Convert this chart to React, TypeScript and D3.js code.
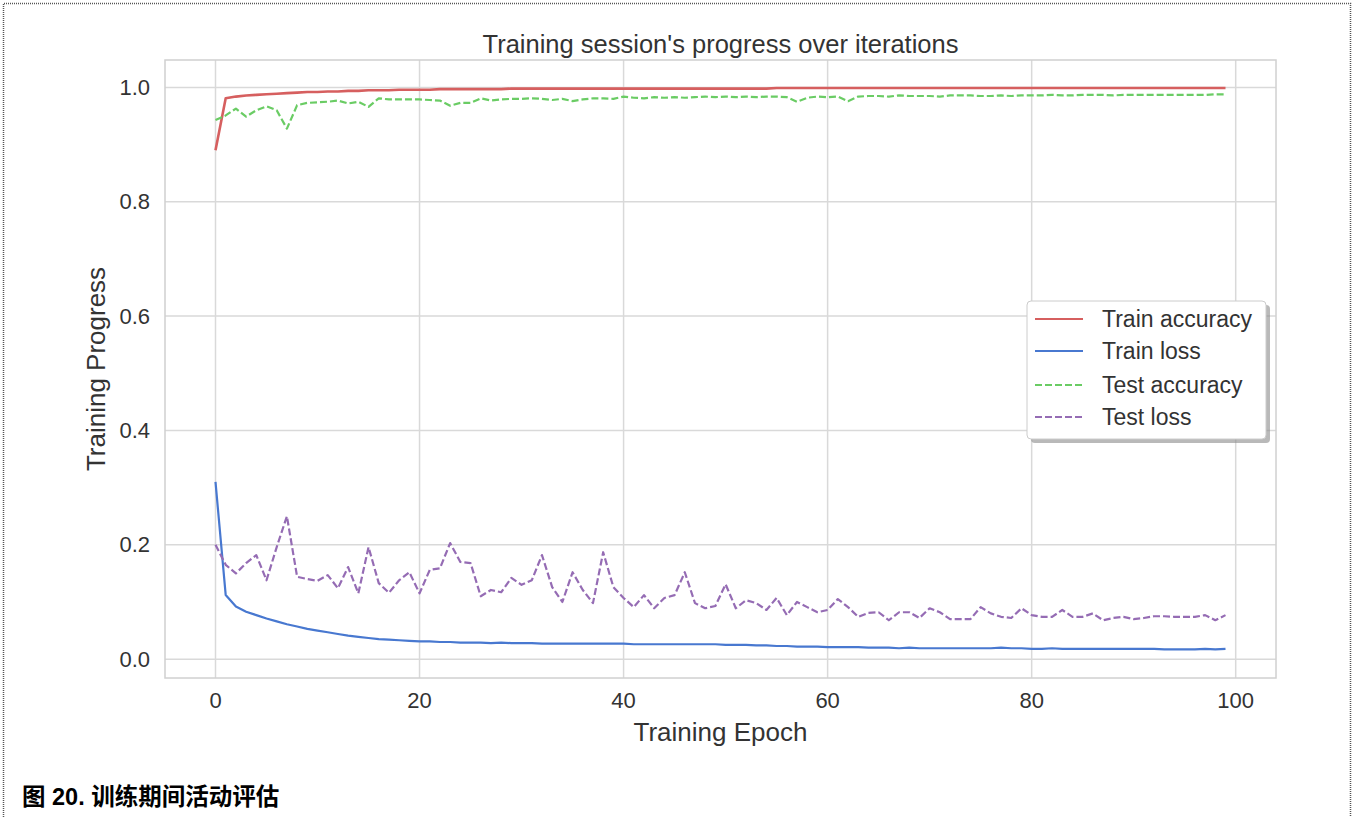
import React from "react";
import * as d3 from "d3";

const epochs: number[] = d3.range(0, 100);

const trainAccuracy: number[] = [
  0.890, 0.981, 0.984, 0.986, 0.987, 0.988, 0.989, 0.990, 0.991, 0.992,
  0.992, 0.993, 0.993, 0.994, 0.994, 0.995, 0.995, 0.995, 0.996, 0.996,
  0.996, 0.996, 0.997, 0.997, 0.997, 0.997, 0.997, 0.997, 0.997, 0.998,
  0.998, 0.998, 0.998, 0.998, 0.998, 0.998, 0.998, 0.998, 0.998, 0.998,
  0.998, 0.998, 0.998, 0.998, 0.998, 0.998, 0.998, 0.998, 0.998, 0.998,
  0.998, 0.998, 0.998, 0.998, 0.998, 0.999, 0.999, 0.999, 0.999, 0.999,
  0.999, 0.999, 0.999, 0.999, 0.999, 0.999, 0.999, 0.999, 0.999, 0.999,
  0.999, 0.999, 0.999, 0.999, 0.999, 0.999, 0.999, 0.999, 0.999, 0.999,
  0.999, 0.999, 0.999, 0.999, 0.999, 0.999, 0.999, 0.999, 0.999, 0.999,
  0.999, 0.999, 0.999, 0.999, 0.999, 0.999, 0.999, 0.999, 0.999, 0.999,
];

const trainLoss: number[] = [
  0.310, 0.112, 0.092, 0.083, 0.077, 0.071, 0.066, 0.061, 0.057, 0.053,
  0.050, 0.047, 0.044, 0.041, 0.039, 0.037, 0.035, 0.034, 0.033, 0.032,
  0.031, 0.031, 0.030, 0.030, 0.029, 0.029, 0.029, 0.028, 0.029, 0.028,
  0.028, 0.028, 0.027, 0.027, 0.027, 0.027, 0.027, 0.027, 0.027, 0.027,
  0.027, 0.026, 0.026, 0.026, 0.026, 0.026, 0.026, 0.026, 0.026, 0.026,
  0.025, 0.025, 0.025, 0.024, 0.024, 0.023, 0.023, 0.022, 0.022, 0.022,
  0.021, 0.021, 0.021, 0.021, 0.020, 0.020, 0.020, 0.019, 0.020, 0.019,
  0.019, 0.019, 0.019, 0.019, 0.019, 0.019, 0.019, 0.020, 0.019, 0.019,
  0.018, 0.018, 0.019, 0.018, 0.018, 0.018, 0.018, 0.018, 0.018, 0.018,
  0.018, 0.018, 0.018, 0.017, 0.017, 0.017, 0.017, 0.018, 0.017, 0.018,
];

const testAccuracy: number[] = [
  0.943, 0.951, 0.963, 0.949, 0.960, 0.967, 0.960, 0.928, 0.969, 0.973,
  0.974, 0.975, 0.977, 0.972, 0.975, 0.966, 0.981, 0.979, 0.979, 0.979,
  0.979, 0.978, 0.977, 0.968, 0.973, 0.973, 0.981, 0.977, 0.979, 0.980,
  0.980, 0.981, 0.980, 0.978, 0.980, 0.976, 0.979, 0.981, 0.981, 0.980,
  0.984, 0.982, 0.981, 0.983, 0.982, 0.983, 0.982, 0.983, 0.984, 0.983,
  0.984, 0.983, 0.984, 0.983, 0.984, 0.984, 0.983, 0.975, 0.982, 0.984,
  0.983, 0.984, 0.976, 0.984, 0.985, 0.985, 0.984, 0.986, 0.985, 0.985,
  0.985, 0.984, 0.986, 0.986, 0.986, 0.985, 0.985, 0.986, 0.985, 0.986,
  0.986, 0.986, 0.987, 0.986, 0.986, 0.987, 0.987, 0.987, 0.986, 0.987,
  0.987, 0.987, 0.987, 0.987, 0.987, 0.987, 0.987, 0.987, 0.988, 0.988,
];

const testLoss: number[] = [
  0.200, 0.165, 0.150, 0.168, 0.182, 0.138, 0.196, 0.250, 0.144, 0.140,
  0.137, 0.147, 0.124, 0.161, 0.115, 0.196, 0.133, 0.116, 0.138, 0.152,
  0.115, 0.156, 0.159, 0.203, 0.170, 0.168, 0.110, 0.121, 0.117, 0.142,
  0.130, 0.138, 0.182, 0.126, 0.100, 0.152, 0.121, 0.098, 0.187, 0.126,
  0.107, 0.091, 0.112, 0.089, 0.107, 0.112, 0.152, 0.098, 0.089, 0.093,
  0.131, 0.089, 0.103, 0.098, 0.086, 0.107, 0.077, 0.100, 0.091, 0.082,
  0.086, 0.105, 0.091, 0.074, 0.081, 0.082, 0.068, 0.082, 0.082, 0.072,
  0.089, 0.082, 0.070, 0.070, 0.070, 0.091, 0.080, 0.074, 0.072, 0.089,
  0.077, 0.074, 0.074, 0.086, 0.074, 0.074, 0.080, 0.068, 0.072, 0.074,
  0.070, 0.072, 0.075, 0.075, 0.074, 0.074, 0.074, 0.077, 0.068, 0.077,
];

const xTicks: number[] = [0, 20, 40, 60, 80, 100];
const yTicks: number[] = [0.0, 0.2, 0.4, 0.6, 0.8, 1.0];

const seriesNames: string[] = ["Train accuracy", "Train loss", "Test accuracy", "Test loss"];
const seriesColors: string[] = ["#d65f5f", "#4878d0", "#6acc64", "#956cb4"];
const seriesDashed: boolean[] = [false, false, true, true];

const titleText = "Training session's progress over iterations";
const xLabel = "Training Epoch";
const yLabel = "Training Progress";
const caption = "图 20. 训练期间活动评估";

const W = 1354;
const H = 817;
const plot = { left: 165, right: 1276, top: 60, bottom: 678 };
const FONT = "'Liberation Sans', Arial, Helvetica, sans-serif";

export default function App() {
  const x = d3.scaleLinear().domain([-4.95, 103.95]).range([plot.left, plot.right]);
  const y = d3.scaleLinear().domain([-0.033, 1.048]).range([plot.bottom, plot.top]);
  const seriesData = [trainAccuracy, trainLoss, testAccuracy, testLoss];
  const line = d3
    .line<number>()
    .x((_, i) => x(epochs[i]))
    .y((d) => y(d));
  const fmt = d3.format(".1f");

  const legend = { x: 1027, y: 301, w: 239, h: 138 };
  const rowY = [319, 351, 385, 417];

  return (
    <svg
      width={W}
      height={H}
      style={{ position: "absolute", left: 0, top: 0, display: "block", background: "#fff" }}
      fontFamily={FONT}
    >
      <rect x={0} y={0} width={W} height={H} fill="#ffffff" />
      {/* page border */}
      <path
        d={`M3.5,${H} L3.5,3.5 L1350.5,3.5 L1350.5,${H}`}
        fill="none"
        stroke="#555"
        strokeWidth={1.5}
        strokeDasharray="1,1"
      />
      {/* grid */}
      {xTicks.map((t) => (
        <line key={"gx" + t} x1={x(t)} x2={x(t)} y1={plot.top} y2={plot.bottom} stroke="#d9d9d9" strokeWidth={1.5} />
      ))}
      {yTicks.map((t) => (
        <line key={"gy" + t} x1={plot.left} x2={plot.right} y1={y(t)} y2={y(t)} stroke="#d9d9d9" strokeWidth={1.5} />
      ))}
      <rect
        x={plot.left}
        y={plot.top}
        width={plot.right - plot.left}
        height={plot.bottom - plot.top}
        fill="none"
        stroke="#d0d0d0"
        strokeWidth={1.5}
      />
      {/* series */}
      {seriesData.map((d, i) => (
        <path
          key={seriesNames[i]}
          d={line(d) || ""}
          fill="none"
          stroke={seriesColors[i]}
          strokeWidth={i === 0 ? 2.6 : 2.2}
          strokeDasharray={seriesDashed[i] ? "7,3" : undefined}
          strokeLinejoin="round"
        />
      ))}
      {/* tick labels */}
      {xTicks.map((t) => (
        <text key={"tx" + t} x={x(t)} y={708} textAnchor="middle" fontSize={22} fill="#333">
          {t}
        </text>
      ))}
      {yTicks.map((t) => (
        <text key={"ty" + t} x={150} y={y(t) + 7.5} textAnchor="end" fontSize={22} fill="#333">
          {fmt(t)}
        </text>
      ))}
      {/* labels */}
      <text x={(plot.left + plot.right) / 2} y={53} textAnchor="middle" fontSize={25.5} fill="#333">
        {titleText}
      </text>
      <text x={(plot.left + plot.right) / 2} y={741} textAnchor="middle" fontSize={26} fill="#333">
        {xLabel}
      </text>
      <text
        transform={`translate(105, ${(plot.top + plot.bottom) / 2}) rotate(-90)`}
        textAnchor="middle"
        fontSize={26}
        fill="#333"
      >
        {yLabel}
      </text>
      {/* legend */}
      <rect x={legend.x + 4} y={legend.y + 4} width={legend.w} height={legend.h} rx={4} fill="#8a8a8a" opacity={0.6} />
      <rect x={legend.x} y={legend.y} width={legend.w} height={legend.h} rx={4} fill="#ffffff" stroke="#cccccc" strokeWidth={1} />
      {seriesNames.map((name, i) => (
        <g key={"lg" + name}>
          <line
            x1={1035}
            x2={1083}
            y1={rowY[i]}
            y2={rowY[i]}
            stroke={seriesColors[i]}
            strokeWidth={2.2}
            strokeDasharray={seriesDashed[i] ? "7,3" : undefined}
          />
          <text x={1102} y={rowY[i] + 8} fontSize={23} fill="#333">
            {name}
          </text>
        </g>
      ))}
      {/* caption */}
      <text x={22} y={805} fontSize={23.5} fontWeight="bold" fill="#000" fontFamily="'Liberation Sans', 'Noto Sans CJK SC', sans-serif">
        {caption}
      </text>
    </svg>
  );
}
